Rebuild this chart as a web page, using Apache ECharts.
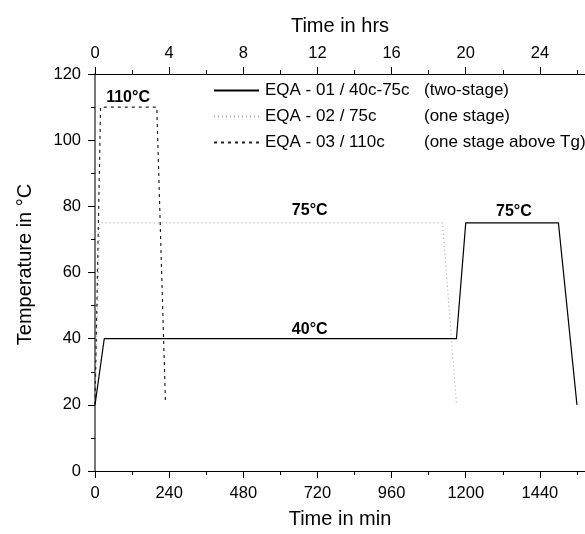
<!DOCTYPE html>
<html>
<head>
<meta charset="utf-8">
<script src="https://cdn.jsdelivr.net/npm/echarts@6/dist/echarts.min.js"></script>
<style>
  html, body { margin: 0; padding: 0; background: #fff; }
  #root { width: 585px; height: 534px; }
</style>
</head>
<body>
<div id="root"></div>
<script>
  // profiles: time in minutes, temperature in °C
  const eqa01Time = [0, 30, 1170, 1200, 1500, 1560];
  const eqa01Temp = [20, 40, 40, 75, 75, 20];
  const eqa02Time = [0, 15, 1125, 1170];
  const eqa02Temp = [20, 75, 75, 20];
  const eqa03Time = [0, 18, 200, 228];
  const eqa03Temp = [20, 110, 110, 21];

  const seriesNames = ["EQA - 01 / 40c-75c", "EQA - 02 / 75c", "EQA - 03 / 110c"];
  const seriesNotes = ["(two-stage)", "(one stage)", "(one stage above Tg)"];

  const labelTime = [107, 695, 695, 1356];
  const labelTemp = [112.8, 78.7, 42.7, 78.4];
  const labelText = ["110°C", "75°C", "40°C", "75°C"];

  const xMaxMin = 1586;
  const font = "Liberation Sans, Arial, sans-serif";

  const zip = (xs, ys) => xs.map((x, i) => [x, ys[i]]);

  const chart = echarts.init(document.getElementById("root"));
  const option = {
    animation: false,
    textStyle: { fontFamily: font },
    grid: { left: 95, right: 0, top: 74, bottom: 61 },
    legend: {
      orient: "vertical",
      left: 213,
      top: 82,
      padding: 0,
      itemWidth: 45,
      itemHeight: 16,
      itemGap: 9,
      data: seriesNames,
      itemStyle: { opacity: 0 },
      formatter: (name) => {
        const i = seriesNames.indexOf(name);
        return "{a|" + name + "}{b|" + seriesNotes[i] + "}";
      },
      textStyle: {
        fontFamily: font,
        color: "#000",
        padding: [0, 0, 0, 1],
        rich: {
          a: { width: 159, fontSize: 17, fontFamily: font, color: "#000" },
          b: { fontSize: 17, fontFamily: font, color: "#000" }
        }
      }
    },
    xAxis: [
      {
        type: "value",
        position: "bottom",
        min: 0,
        max: xMaxMin,
        interval: 240,
        name: "Time in min",
        nameLocation: "middle",
        nameGap: 38,
        nameTextStyle: { fontSize: 20, color: "#000", fontFamily: font },
        axisLine: { onZero: false, lineStyle: { color: "#000", width: 1 } },
        axisTick: { inside: false, length: 7, lineStyle: { color: "#000" } },
        minorTick: { show: true, splitNumber: 2, length: 4, lineStyle: { color: "#000" } },
        axisLabel: {
          fontSize: 16.5, color: "#000", margin: 14, showMaxLabel: false, fontFamily: font,
          formatter: (v) => String(v)
        },
        splitLine: { show: false }
      },
      {
        type: "value",
        position: "top",
        min: 0,
        max: xMaxMin / 60,
        interval: 4,
        name: "Time in hrs",
        nameLocation: "middle",
        nameGap: 38,
        nameTextStyle: { fontSize: 20, color: "#000", fontFamily: font },
        axisLine: { onZero: false, lineStyle: { color: "#000", width: 1 } },
        axisTick: { inside: false, length: 7, lineStyle: { color: "#000" } },
        minorTick: { show: true, splitNumber: 2, length: 4, lineStyle: { color: "#000" } },
        axisLabel: {
          fontSize: 16.5, color: "#000", margin: 12, showMaxLabel: false, fontFamily: font,
          formatter: (v) => String(v)
        },
        splitLine: { show: false }
      }
    ],
    yAxis: {
      type: "value",
      min: 0,
      max: 120,
      interval: 20,
      name: "Temperature in °C",
      nameLocation: "middle",
      nameGap: 60,
      nameTextStyle: { fontSize: 20, color: "#000", fontFamily: font, padding: [0, 0, 0, 16] },
      axisLine: { show: true, onZero: false, lineStyle: { color: "#777", width: 2 } },
      axisTick: { show: true, length: 7, lineStyle: { color: "#000" } },
      minorTick: { show: true, splitNumber: 2, length: 4, lineStyle: { color: "#000" } },
      axisLabel: { fontSize: 16.5, color: "#000", margin: 14, fontFamily: font },
      splitLine: { show: false }
    },
    series: [
      {
        name: seriesNames[0],
        type: "line",
        data: zip(eqa01Time, eqa01Temp),
        symbol: "none",
        lineStyle: { color: "#000", width: 1.2, type: "solid" },
        itemStyle: { color: "#000" },
        z: 3
      },
      {
        name: seriesNames[1],
        type: "line",
        data: zip(eqa02Time, eqa02Temp),
        symbol: "none",
        lineStyle: { color: "#aaa", width: 1.2, type: [1, 3] },
        itemStyle: { color: "#aaa" },
        z: 2
      },
      {
        name: seriesNames[2],
        type: "line",
        data: zip(eqa03Time, eqa03Temp),
        symbol: "none",
        lineStyle: { color: "#222", width: 1.2, type: [3, 4] },
        itemStyle: { color: "#222" },
        z: 2
      },
      {
        type: "scatter",
        data: labelTime.map((t, i) => ({ value: [t, labelTemp[i]], name: labelText[i] })),
        symbolSize: 0,
        silent: true,
        itemStyle: { opacity: 1 },
        label: {
          show: true,
          position: "inside",
          formatter: (p) => p.name,
          fontSize: 16,
          fontWeight: "bold",
          color: "#000",
          opacity: 1,
          textBorderWidth: 0,
          fontFamily: font
        }
      }
    ]
  };
  chart.setOption(option);
</script>
</body>
</html>
